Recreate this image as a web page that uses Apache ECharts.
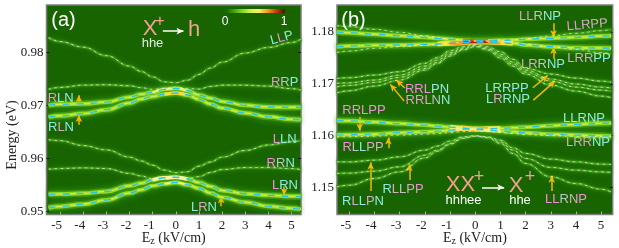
<!DOCTYPE html>
<html><head><meta charset="utf-8">
<style>html,body{margin:0;padding:0;background:#fff}#c{width:619px;height:248px}</style>
<script src="https://cdn.jsdelivr.net/npm/echarts@6/dist/echarts.min.js"></script>
</head><body><div id="c"></div>
<script>
// ---- sampled field values (kV/cm) shared by every curve
const xGrid = [-5.5,-5,-4,-3,-2,-1.5,-1,-0.5,0,0.5,1,1.5,2,3,4,5,5.4];
const xTicks = [-5,-4,-3,-2,-1,0,1,2,3,4,5];
const yTicksA = [0.95,0.96,0.97,0.98];
const yTicksB = [1.15,1.16,1.17,1.18];

// ---- panel (a) energies (eV)
const aLLP = [0.98278,0.98204,0.98098,0.97937,0.97741,0.97641,0.97537,0.97444,0.97426,0.97474,0.97585,0.97704,0.97815,0.97987,0.98093,0.98185,0.98246];
const aRRP = [0.97302,0.97339,0.97381,0.97389,0.9737,0.97333,0.97302,0.9732,0.97339,0.9732,0.97307,0.97357,0.97381,0.97381,0.97363,0.97315,0.97289];
const aRLNu = [0.97,0.97019,0.9703,0.97061,0.97154,0.97209,0.97246,0.97302,0.97322,0.97278,0.97196,0.97135,0.97074,0.97,0.96969,0.96963,0.96963];
const aRLNl = [0.96778,0.96802,0.96844,0.96919,0.97043,0.97122,0.97167,0.97209,0.97233,0.97196,0.97117,0.97024,0.9695,0.96857,0.96783,0.96737,0.96728];
const aLLN = [0.96352,0.96333,0.96241,0.96159,0.96024,0.9595,0.9587,0.95778,0.95728,0.95746,0.95852,0.95931,0.96024,0.96148,0.96252,0.96315,0.96333];
const aRRN = [0.95796,0.95807,0.9582,0.95807,0.95715,0.95667,0.95611,0.95598,0.95635,0.95617,0.95654,0.95733,0.95789,0.95826,0.95826,0.95807,0.95789];
const aLRNu = [0.9532,0.95326,0.95339,0.95376,0.95481,0.9553,0.95593,0.95635,0.95644,0.95611,0.95543,0.95469,0.95394,0.95333,0.95302,0.95283,0.95283];
const aLRNl = [0.95067,0.95093,0.95135,0.95215,0.95344,0.95407,0.95481,0.95519,0.95543,0.955,0.95437,0.95344,0.95265,0.95172,0.95098,0.95056,0.95037];

// ---- panel (b) energies (eV)
const bTopW1 = [1.18122,1.18103,1.18052,1.17994,1.17928,1.17897,1.17865,1.17845,1.17832,1.17832,1.17845,1.17859,1.1787,1.17923,1.17975,1.18025,1.18052];
const bTopC1 = [1.18,1.17986,1.17956,1.17928,1.17897,1.17878,1.17859,1.17845,1.17832,1.17832,1.17839,1.17845,1.17859,1.17878,1.17897,1.17923,1.17928];
const bTopC2 = [1.17716,1.17729,1.17743,1.17749,1.17762,1.17768,1.17781,1.17793,1.17807,1.17807,1.17797,1.17781,1.17749,1.17716,1.17696,1.17691,1.17685];
const bTopW2 = [1.17607,1.17632,1.17685,1.17716,1.17743,1.17762,1.17781,1.17801,1.1782,1.17812,1.17807,1.17793,1.17768,1.17716,1.17665,1.176,1.17574];
const bMid1 = [1.17104,1.17116,1.17168,1.17232,1.17395,1.17503,1.17638,1.17716,1.17754,1.17716,1.17619,1.17472,1.17298,1.17188,1.1711,1.17052,1.17033];
const bMid2 = [1.17008,1.17019,1.17072,1.17168,1.17342,1.17458,1.176,1.17691,1.17743,1.17691,1.17574,1.1742,1.17265,1.17091,1.16994,1.16936,1.16917];
const bMid3 = [1.16942,1.16969,1.17027,1.17124,1.17298,1.17414,1.17569,1.17671,1.17729,1.17671,1.17536,1.17381,1.17226,1.17052,1.16936,1.16878,1.16859];
const bMid4 = [1.16826,1.16865,1.16956,1.17072,1.17265,1.17395,1.17536,1.17652,1.17716,1.17652,1.17497,1.17342,1.17188,1.16975,1.16859,1.16762,1.16733];
const bLowC1 = [1.16292,1.16284,1.16259,1.1623,1.16201,1.16182,1.16162,1.16143,1.16124,1.1613,1.16137,1.16149,1.16162,1.16191,1.16215,1.16236,1.16244];
const bLowC2 = [1.16008,1.16014,1.16027,1.16056,1.16075,1.16085,1.16104,1.16124,1.16124,1.16104,1.16085,1.16072,1.16056,1.16027,1.16008,1.15994,1.15988];
const bLowW = [1.15969,1.15975,1.15988,1.16008,1.16027,1.16037,1.16056,1.16075,1.16085,1.16075,1.16056,1.16037,1.16017,1.15998,1.15988,1.15979,1.15975];
const bLow1 = [1.15491,1.15491,1.15524,1.15588,1.15718,1.15795,1.15892,1.15975,1.15998,1.15975,1.15911,1.15762,1.15654,1.15544,1.15491,1.15447,1.15441];
const bLow2 = [1.15267,1.15273,1.15311,1.15395,1.15621,1.15718,1.15847,1.15956,1.15988,1.15969,1.15878,1.15718,1.15557,1.15383,1.15331,1.15298,1.15286];
const bLow3 = [1.15008,1.15041,1.1517,1.15298,1.15569,1.15698,1.15828,1.15944,1.15988,1.15956,1.15847,1.15654,1.1546,1.15201,1.15073,1.14963,1.14911];

// ---- annotation arrows [x1, y1, x2, y2] in axis units, head at the second point
const arrowsA = [[-4.19,0.97040,-4.19,0.97191],[-4.19,0.96635,-4.19,0.9682],[4.68,0.95469,4.68,0.95302],[1.96,0.95098,1.96,0.95283]];
const arrowsB = [[3.11,1.18168,3.11,1.17897],[3.11,1.17478,3.11,1.1771],[-2.8,1.16917,-3.13,1.17072],[-2.82,1.16665,-3.37,1.16988],
  [2.29,1.16923,2.88,1.17162],[2.31,1.16685,3.17,1.17052],[-4.59,1.16362,-4.59,1.16091],[-3.45,1.15756,-3.45,1.15963],
  [-4.15,1.1493,-4.15,1.1548],[-2.62,1.15143,-2.62,1.15447],[3.04,1.1493,3.04,1.15221]];
const whiteArrowA = [[-0.56,0.984,0.33,0.984]];
const whiteArrowB = [[0.27,1.14996,1.15,1.14996]];

const BG = '#176400';
const toPts = v => v.map((y,i)=>[xGrid[i],y]);
const series = [];
function line(gi,pts,width,color,z,extra){
  series.push(Object.assign({type:'line',xAxisIndex:gi,yAxisIndex:gi*2,data:pts,smooth:0.45,smoothMonotone:'x',showSymbol:false,silent:true,animation:false,clip:true,z:z,
    lineStyle:Object.assign({width:width,color:color},extra||{})}));
}
function thin(gi,v){
  const p=toPts(v);
  line(gi,p,4,'rgba(46,130,14,0.75)',2,{shadowBlur:5,shadowColor:'#2a8010'});
  line(gi,p,1.8,'rgba(80,170,30,0.85)',3);
  line(gi,p,0.8,'rgba(240,248,235,0.85)',8,{type:[2.5,3.5]});
}
function bright(gi,v){
  const p=toPts(v);
  line(gi,p,7,'rgba(66,155,20,0.85)',4,{shadowBlur:6,shadowColor:'#3a9612'});
  line(gi,p,4,'#8cd824',5);
  line(gi,p,1.5,'#cdec44',6);
  line(gi,p,1.4,'#22c4ee',9,{type:[7,7]});
}
function hot(gi,v,a,b,width,color,z){ line(gi,toPts(v).slice(a,b),width,color,z); }
function arrows(gi,list,color,width,size){
  series.push({type:'line',xAxisIndex:gi,yAxisIndex:gi*2,data:[],silent:true,animation:false,z:20,
    markLine:{silent:true,animation:false,symbol:['none','arrow'],symbolSize:size,precision:6,label:{show:false},
      lineStyle:{color:color,width:width,type:'solid'},
      data:list.map(a=>[{coord:[a[0],a[1]]},{coord:[a[2],a[3]]}])}});
}

[aLLP,aRRP,aLLN,aRRN].forEach(v=>thin(0,v));
[aRLNu,aRLNl,aLRNu,aLRNl].forEach(v=>bright(0,v));
hot(0,aRLNl,7,10,3,'#f6dc3c',7);
hot(0,aRLNu,6,10,2,'#eef07a',7);
hot(0,aLRNu,6,10,3.5,'#f8f29a',7);
hot(0,aLRNl,7,10,2,'#eef07a',7);

[bTopW1,bTopW2,bMid1,bMid2,bMid3,bMid4,bLowW,bLow1,bLow2,bLow3].forEach(v=>thin(1,v));
[bTopC1,bTopC2,bLowC1,bLowC2].forEach(v=>bright(1,v));
hot(1,bTopC2,5,12,5,'#f5e23a',7);
hot(1,bTopC2,6,11,4,'#f59a20',7);
hot(1,bTopC1,7,10,3,'#e04a10',7);
hot(1,bTopC2,7,10,2,'#b02408',7);
hot(1,bLowC1,6,11,5,'#eeee50',7);
hot(1,bLowC1,7,10,4,'#f6b028',7);
hot(1,bLowC2,6,11,3,'#f4f07a',7);

arrows(0,arrowsA,'#f6b800',1.5,[5,7]);
arrows(1,arrowsB,'#f6b800',1.5,[5,7]);
arrows(0,whiteArrowA,'#ffffff',1.5,[5,7]);
arrows(1,whiteArrowB,'#ffffff',1.5,[5,7]);

// ---- text helpers
const PAL = {p:'#f090d8',c:'#90eadf',g:'#b9c9c4',m:'#d8a8c8'};
const rich = {}; Object.keys(PAL).forEach(k=>rich[k]={fill:PAL[k],color:PAL[k],fontSize:13,fontFamily:'Liberation Sans'});
function lab(text,codes,x,y,rot){
  let s='',i=0;
  while(i<text.length){let j=i;while(j<text.length&&codes[j]===codes[i])j++;s+='{'+codes[i]+'|'+text.slice(i,j)+'}';i=j;}
  return {type:'text',x:x,y:y,rotation:(rot||0)*Math.PI/180,z:30,silent:true,
    style:{text:s,rich:rich,align:'center',verticalAlign:'middle',fontSize:13,fontFamily:'Liberation Sans'}};
}
function txt(t,x,y,size,color,family){
  return {type:'text',x:x,y:y,z:30,silent:true,style:{text:t,align:'center',verticalAlign:'middle',fontSize:size,fill:color,fontFamily:family||'Liberation Sans'}};
}
const SALMON='#f2a090';
const graphic = [
  txt('(a)',63.5,20,20,'#ffffff'), txt('(b)',353.5,20,20,'#ffffff'),
  txt('X',150,29,22,SALMON), txt('+',160,22,16,SALMON), txt('h',194,30,22,SALMON), txt('hhe',152.5,43,13,'#e4efe0'),
  txt('XX',460.5,185,22,SALMON), txt('+',479,177,18,SALMON), txt('X',516,186,22,SALMON), txt('+',530,177,18,SALMON),
  txt('hhhee',463.5,200,13,'#ffffff'), txt('hhe',520,200,13,'#ffffff'),
  txt('0',225,22,12,'#ffffff'), txt('1',284,22,12,'#ffffff'),
  {type:'rect',z:30,silent:true,shape:{x:226,y:9,width:59,height:4},style:{fill:new echarts.graphic.LinearGradient(0,0,1,0,[
    {offset:0,color:'#176400'},{offset:0.2,color:'#5cc01c'},{offset:0.4,color:'#c8f040'},{offset:0.55,color:'#f8f070'},{offset:0.7,color:'#f4a020'},{offset:0.85,color:'#c83c08'},{offset:1,color:'#3c1804'}])}},
  {type:'text',x:12,y:135,rotation:Math.PI/2,z:30,silent:true,style:{text:'Energy (eV)',align:'center',verticalAlign:'middle',fontSize:14,fill:'#222',fontFamily:'Liberation Serif'}},
  lab('LLP','cpc',281.7,38,15), lab('RRP','pgc',284.7,82), lab('RLN','pcc',60.7,98), lab('RLN','cmc',61,127),
  lab('LLN','pcc',284.7,139), lab('RRN','pgc',280.7,163), lab('LRN','pcc',285,185.7), lab('LRN','cmc',204,207),
  lab('LLRNP','ppgcc',540,16), lab('LLRPP','ppmmm',587.3,25,5), lab('LRRPP','mmmcc',589,58), lab('LRRNP','pmgcc',543,64),
  lab('RRLPN','pppcc',427,89), lab('RRLNN','ppmgc',428,100.7), lab('LRRPP','ccccc',507,88), lab('LRRNP','cmccc',508,99),
  lab('RRLPP','ppppp',364,110), lab('LLRNP','ccccc',584,118.7), lab('LRRNP','mmpcc',588,142), lab('RLLPP','pgcmm',363,147),
  lab('RLLPN','cmcmc',363,201), lab('RLLPP','cmgmp',403,189), lab('LLRNP','ppgmp',566,199)
];

// ---- axes
const serif='Liberation Serif';
const xAxisOf = (gi,min,max)=>({type:'value',gridIndex:gi,min:min,max:max,
  axisLine:{show:false,onZero:false},splitLine:{show:false},
  axisTick:{inside:true,length:3,lineStyle:{color:'#a9b9a2',width:1},customValues:xTicks},
  axisLabel:{color:'#222',fontFamily:serif,fontSize:13,margin:5,customValues:xTicks,
    formatter:v=>v<0?'{n|'+v+'}':String(v),rich:{n:{fontFamily:serif,fontSize:13,color:'#222',padding:[0,7,0,0]}}},
  name:'{e|E}{s|z}{e| (kV/cm)}',nameLocation:'middle',nameGap:16,nameMoveOverlap:false,
  nameTextStyle:{rich:{e:{fontFamily:serif,fontSize:14,color:'#222'},s:{fontFamily:serif,fontSize:10,color:'#222',verticalAlign:'bottom',padding:[6,0,0,0]}}}});
const yAxisOf = (gi,min,max,ticks,right)=>({type:'value',gridIndex:gi,min:min,max:max,position:right?'right':'left',
  axisLine:{show:false,onZero:false},splitLine:{show:false},
  axisTick:{inside:true,length:3,lineStyle:{color:'#111',width:1},customValues:ticks},
  axisLabel:right?{show:false,customValues:ticks}:{color:'#222',fontFamily:serif,fontSize:13,margin:3,customValues:ticks,formatter:v=>v.toFixed(2)}});

const chart = echarts.init(document.getElementById('c'),null,{renderer:'canvas'});
chart.setOption({
  animation:false,backgroundColor:'#fff',
  grid:[
    {left:46.5,top:5,width:254.5,height:209.5,show:true,backgroundColor:BG,borderColor:'#7d7d7d',borderWidth:1.5,outerBoundsMode:'none'},
    {left:337,top:5,width:275.7,height:209.5,show:true,backgroundColor:BG,borderColor:'#7d7d7d',borderWidth:1.5,outerBoundsMode:'none'}
  ],
  xAxis:[xAxisOf(0,-5.59,5.41),xAxisOf(1,-5.49,5.46)],
  yAxis:[yAxisOf(0,0.9494,0.98894,yTicksA,false),yAxisOf(0,0.9494,0.98894,yTicksA,true),
         yAxisOf(1,1.14474,1.18522,yTicksB,false),yAxisOf(1,1.14474,1.18522,yTicksB,true)],
  series:series,graphic:graphic
});
</script></body></html>
